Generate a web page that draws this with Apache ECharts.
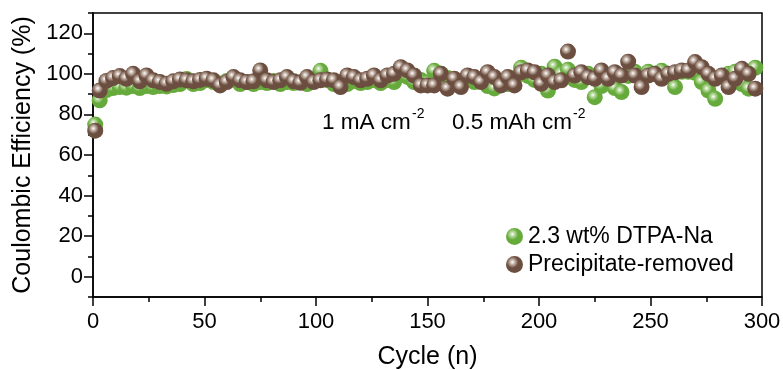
<!DOCTYPE html>
<html><head><meta charset="utf-8">
<script src="https://cdn.jsdelivr.net/npm/echarts@6/dist/echarts.min.js"></script>
<style>html,body{margin:0;padding:0;background:#fff}#c{width:783px;height:370px}</style>
</head><body><div id="c"></div>
<script>
const cycles = [1,3,6,9,12,15,18,21,24,27,30,33,36,39,42,45,48,51,54,57,60,63,66,69,72,75,78,81,84,87,90,93,96,99,102,105,108,111,114,117,120,123,126,129,132,135,138,141,144,147,150,153,156,159,162,165,168,171,174,177,180,183,186,189,192,195,198,201,204,207,210,213,216,219,222,225,228,231,234,237,240,243,246,249,252,255,258,261,264,267,270,273,276,279,282,285,288,291,294,297];
const dtpaNa = [75,87,92,93,93.5,93.2,94,93,94,93.5,94,93.8,94.5,95,97.5,95,95.5,97,96,95,96.5,98,95,96,95,96,95.5,96.5,95,96,95.5,96,95,97,101.5,97,95,96,95,96.5,95.5,96,97,95.5,97,96,101,98.5,96,97,95.5,101.5,100,98,96,95,97,96,97,94,92.8,96,95,98,103,99,97,100,91.8,103.5,100,102,97,96,100,88.5,94,98,93,91,99,101,98.5,101,100,101.5,99,93.5,101,101,100.5,96,91.8,87.7,99,100,101,95,92.7,103];
const precipRemoved = [72,91.8,96.5,97.9,98.9,97.6,100,96.3,99.2,96.8,96,95.1,96.3,97.2,96.8,96.3,97,97.6,96.8,94.3,96,98.4,96.8,96,96.3,101.7,96.8,96,96.8,98.4,96.3,95.6,98.4,96,96.8,97.2,96.8,93.5,99.2,98.4,96.8,97.6,99.2,96.8,99.2,100,103.3,101.7,99.2,94.3,94.3,94.3,100,92.7,97.6,93.5,99.2,98.4,96,100.8,98.4,94.3,98.4,94.3,100.8,101.7,100.8,95.1,99.2,96,96.8,111,99.2,100.8,98.4,97.6,101.7,97.6,100.8,99.2,106,99.2,93.5,99.2,100,97.6,100,100.8,101.7,101.7,105.8,103.3,100,97.6,99.2,93.5,97.6,102.5,100,92.7];
const seriesNames = ['2.3 wt% DTPA-Na', 'Precipitate-removed'];
const yMajor = [0,20,40,60,80,100,120];
const yMinor = [-10,10,30,50,70,90,110,130];

const FONT = '"Liberation Sans", Arial, sans-serif';
function ball(base, mid) {
  return {type:'radial', x:0.38, y:0.36, r:0.62, colorStops:[
    {offset:0, color:'#ffffff'},
    {offset:0.2, color:mid},
    {offset:0.55, color:base},
    {offset:1, color:base}
  ]};
}
const chart = echarts.init(document.getElementById('c'), null, {renderer:'canvas'});
const pair = (xs, ys) => xs.map((x,i)=>[x, ys[i]]);
chart.setOption({
  animation:false,
  textStyle:{fontFamily:FONT},
  grid:{left:93, right:21, top:13, bottom:73, containLabel:false, outerBoundsMode:'none',
        show:true, borderColor:'#000', borderWidth:1.5, backgroundColor:'transparent'},
  legend:{
    left:501, top:220, orient:'vertical', icon:'circle', itemWidth:17, itemHeight:17, itemGap:5, itemTextGap:24,
    textStyle:{fontFamily:FONT, fontSize:23, color:'#000'},
    data:seriesNames
  },
  xAxis:{
    type:'value', min:0, max:300, interval:50,
    name:'Cycle (n)', nameLocation:'middle', nameGap:48,
    nameTextStyle:{fontFamily:FONT, fontSize:25, color:'#000'},
    axisLine:{onZero:false, lineStyle:{color:'#000', width:1.5}},
    axisTick:{length:9, lineStyle:{color:'#000', width:1.5}},
    minorTick:{show:true, splitNumber:2, length:5, lineStyle:{color:'#000', width:1.5}},
    axisLabel:{fontFamily:FONT, fontSize:22, color:'#000', margin:14},
    splitLine:{show:false}
  },
  yAxis:[{
    type:'value', min:-10, max:130,
    name:'Coulombic Efficiency (%)', nameLocation:'middle', nameGap:57,
    nameTextStyle:{fontFamily:FONT, fontSize:25, color:'#000'},
    axisLine:{show:true, onZero:false, lineStyle:{color:'#000', width:1.5}},
    axisTick:{show:true, length:9, customValues:yMajor, lineStyle:{color:'#000', width:1.5}},
    axisLabel:{fontFamily:FONT, fontSize:22, color:'#000', margin:10, customValues:yMajor},
    splitLine:{show:false}
  },{
    type:'value', min:-10, max:130, position:'left',
    axisLine:{show:false, onZero:false},
    axisTick:{show:true, length:5, customValues:yMinor, lineStyle:{color:'#000', width:1.5}},
    axisLabel:{show:false},
    splitLine:{show:false}
  }],
  graphic:[
    {type:'text', left:322, top:111, style:{text:'1 mA cm', font:'22.5px '+FONT, fill:'#000'}},
    {type:'text', left:412, top:107, style:{text:'-2', font:'14px '+FONT, fill:'#000'}},
    {type:'text', left:452, top:111, style:{text:'0.5 mAh cm', font:'22.5px '+FONT, fill:'#000'}},
    {type:'text', left:573, top:107, style:{text:'-2', font:'14px '+FONT, fill:'#000'}}
  ],
  series:[
    {name:seriesNames[0], type:'scatter', symbol:'circle', symbolSize:16, z:2,
     itemStyle:{color:ball('#67aa3c','#bcdca4'), opacity:1},
     data:pair(cycles, dtpaNa)},
    {name:seriesNames[1], type:'scatter', symbol:'circle', symbolSize:16, z:3,
     itemStyle:{color:ball('#6b4e3f','#cbbbb1'), opacity:1},
     data:pair(cycles, precipRemoved)}
  ]
});
</script></body></html>
